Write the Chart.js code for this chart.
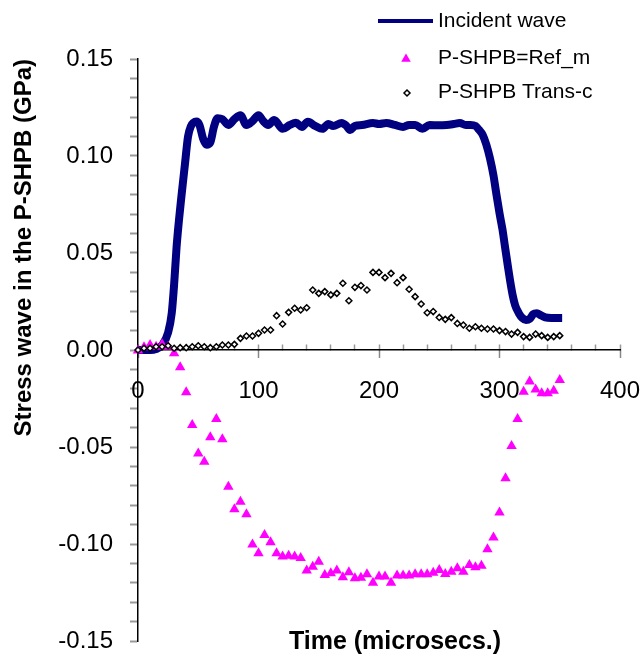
<!DOCTYPE html>
<html><head><meta charset="utf-8">
<script src="https://cdn.jsdelivr.net/npm/chart.js@4/dist/chart.umd.min.js"></script>
<style>html,body{margin:0;padding:0;background:#fff}</style>
</head><body>
<canvas id="c" width="643" height="663"></canvas>
<script>
const seriesNames = ['Incident wave', 'P-SHPB=Ref_m', 'P-SHPB Trans-c'];
const xAxisTitle = 'Time (microsecs.)';
const yAxisTitle = 'Stress wave in the P-SHPB (GPa)';
const xTickLabels = ['0', '100', '200', '300', '400'];
const yTickLabels = ['-0.15', '-0.10', '-0.05', '0.00', '0.05', '0.10', '0.15'];

const incidentTime = [0,5,10,15,20,25,28,30,32,34,36,39,41.5,44,46,48.5,51,54,57,60,63,66,70,75,80,85,90,95,100,104,108,113,120,126,131,136,141,147,153,158,162,169,173,176,180,186,195,200,206,213,220,225,230,236,242,250,256,262,267,272,276,280,283,286,289,292,295,297,300,302.5,304.6,307,309,311,313,316,319,322,325,328,331,334,338,343,348,352];
const incidentStress = [0,0,0,0.0005,0.0025,0.009,0.019,0.034,0.053,0.067,0.079,0.096,0.11,0.1155,0.1172,0.1178,0.116,0.109,0.1058,0.107,0.115,0.1195,0.119,0.116,0.119,0.121,0.116,0.118,0.121,0.118,0.116,0.1186,0.114,0.116,0.1172,0.115,0.1177,0.1155,0.114,0.1165,0.1155,0.117,0.1155,0.1134,0.1155,0.116,0.117,0.1165,0.117,0.116,0.115,0.116,0.116,0.114,0.116,0.1158,0.116,0.1165,0.117,0.116,0.116,0.1155,0.1135,0.111,0.106,0.099,0.09,0.082,0.0705,0.062,0.053,0.043,0.035,0.028,0.023,0.019,0.0165,0.0155,0.016,0.0185,0.019,0.018,0.0168,0.0165,0.0165,0.0165];

const sampleTime = [0,5,10,15,20,25,30,35,40,45,50,55,60,65,70,75,80,85,90,95,100,105,110,115,120,125,130,135,140,145,150,155,160,165,170,175,180,185,190,195,200,205,210,215,220,225,230,235,240,245,250,255,260,265,270,275,280,285,290,295,300,305,310,315,320,325,330,335,340,345,350];
const refStress = [-0.0003,0.0014,0.0026,0.0017,0.003,0.0017,-0.0017,-0.0089,-0.0218,-0.0387,-0.0533,-0.0576,-0.045,-0.0356,-0.046,-0.0705,-0.0821,-0.0782,-0.0847,-0.1003,-0.1048,-0.0954,-0.0991,-0.1048,-0.1065,-0.106,-0.1065,-0.1072,-0.1137,-0.1117,-0.1091,-0.116,-0.1151,-0.1137,-0.1172,-0.1146,-0.1177,-0.1174,-0.1156,-0.12,-0.1168,-0.1168,-0.12,-0.1163,-0.1163,-0.1163,-0.1156,-0.1156,-0.1156,-0.1148,-0.1134,-0.1155,-0.1143,-0.1125,-0.1143,-0.1108,-0.112,-0.1112,-0.1027,-0.0966,-0.0837,-0.0661,-0.0495,-0.0356,-0.0215,-0.0163,-0.0203,-0.0223,-0.0223,-0.021,-0.0155];
const transStress = [0,0.0009,0.0009,0.0017,0.0017,0.0022,0.0009,0.0012,0.0012,0.0017,0.0022,0.0017,0.0012,0.0017,0.0026,0.0026,0.0029,0.006,0.0072,0.0072,0.0086,0.0103,0.0103,0.0177,0.0134,0.0194,0.0215,0.0206,0.0218,0.0309,0.0292,0.0301,0.0284,0.0292,0.0344,0.0254,0.0323,0.0332,0.0309,0.040,0.040,0.0373,0.0395,0.0347,0.0373,0.0313,0.0275,0.0237,0.0192,0.0198,0.0168,0.0158,0.0167,0.0137,0.0129,0.0112,0.012,0.0112,0.0108,0.0108,0.0100,0.0095,0.0082,0.0091,0.0069,0.0065,0.0082,0.0074,0.0065,0.0069,0.0074];

const FONT = '"Liberation Sans", Arial, Helvetica, sans-serif';
const toPts = (xs, ys) => xs.map((x, i) => ({x: x, y: ys[i]}));
const matchLabel = (labels, v) => {
  const l = labels.find(s => Math.abs(parseFloat(s) - v) < 1e-6);
  return l === undefined ? '' : l;
};

const legendPlugin = {
  id: 'boxLegend',
  afterLayout(chart) {
    // shift the x-axis title box to the right (title only, ticks keep their mapping)
    const s = chart.scales.x2;
    if (s) { s.right += 32; }
  },
  afterDraw(chart) {
    const ctx = chart.ctx;
    const ds = chart.data.datasets;
    ctx.save();
    ctx.font = '21px ' + FONT;
    ctx.fillStyle = '#000';
    ctx.textAlign = 'left';
    ctx.textBaseline = 'middle';
    ctx.strokeStyle = ds[0].borderColor;
    ctx.lineWidth = 4;
    ctx.beginPath(); ctx.moveTo(378, 21); ctx.lineTo(433, 21); ctx.stroke();
    ctx.fillText(ds[0].label, 438, 21);
    ctx.fillStyle = ds[1].backgroundColor;
    ctx.beginPath();
    const r = 5.5;
    ctx.moveTo(406, 59 - r);
    ctx.lineTo(406 + r * 0.866, 59 + r / 2);
    ctx.lineTo(406 - r * 0.866, 59 + r / 2);
    ctx.closePath(); ctx.fill();
    ctx.fillStyle = '#000';
    ctx.fillText(ds[1].label, 438, 58);
    ctx.beginPath();
    const d = 3;
    ctx.moveTo(407, 93 - d); ctx.lineTo(407 + d, 93); ctx.lineTo(407, 93 + d); ctx.lineTo(407 - d, 93); ctx.closePath();
    ctx.fillStyle = '#fff'; ctx.fill();
    ctx.strokeStyle = '#000'; ctx.lineWidth = 1.5; ctx.stroke();
    ctx.fillStyle = '#000';
    ctx.fillText(ds[2].label, 438, 92.5);
    ctx.restore();
  }
};

new Chart(document.getElementById('c'), {
  type: 'scatter',
  data: {
    datasets: [
      {
        label: seriesNames[0], type: 'line', data: toPts(incidentTime, incidentStress),
        borderColor: '#000080', borderWidth: 8, pointRadius: 0, fill: false,
        cubicInterpolationMode: 'monotone', order: 2, clip: false
      },
      {
        label: seriesNames[1], data: toPts(sampleTime, refStress),
        pointStyle: 'triangle', pointRadius: 6, backgroundColor: '#FF00FF', borderColor: '#FF00FF',
        borderWidth: 0, showLine: false, order: 1, clip: false
      },
      {
        label: seriesNames[2], data: toPts(sampleTime, transStress),
        pointStyle: 'rectRot', pointRadius: 3, backgroundColor: '#FFFFFF', borderColor: '#000000',
        borderWidth: 1.5, showLine: false, order: 0, clip: false
      }
    ]
  },
  options: {
    responsive: false,
    animation: false,
    devicePixelRatio: 1,
    layout: { padding: { top: 59, right: 23, bottom: 22, left: 0 } },
    plugins: { legend: { display: false }, tooltip: { enabled: false }, title: { display: false } },
    elements: { point: { hoverRadius: 0 } },
    scales: {
      x: {
        type: 'linear', position: { y: 0 }, min: 0, max: 400,
        border: { display: true, color: '#000', width: 1.5 },
        grid: { drawOnChartArea: false, drawTicks: true, tickLength: -6, tickColor: '#999', tickWidth: 1.5 },
        ticks: {
          stepSize: 20, autoSkip: false, maxRotation: 0, padding: 33, color: '#000',
          font: { family: FONT, size: 24 },
          callback: v => matchLabel(xTickLabels, v)
        },
        afterFit: s => { s.paddingLeft = 0; s.paddingRight = 0; }
      },
      x2: {
        type: 'linear', axis: 'x', position: { y: 0 }, min: 0, max: 400,
        border: { display: false },
        grid: { drawOnChartArea: false, drawTicks: true, tickLength: 8, tickColor: '#888', tickWidth: 1.5 },
        ticks: { stepSize: 100, display: false },
        title: { display: true, text: xAxisTitle, color: '#000', font: { family: FONT, size: 25, weight: 'bold' }, padding: 0 },
        afterFit: s => { s.height = 307; s.paddingLeft = 0; s.paddingRight = 0; }
      },
      y: {
        type: 'linear', position: 'left', min: -0.15, max: 0.15,
        border: { display: true, color: '#000', width: 1.5 },
        grid: { drawOnChartArea: false, drawTicks: true, tickLength: 8, tickColor: '#999', tickWidth: 2 },
        ticks: {
          stepSize: 0.01, autoSkip: false, padding: 17, color: '#000',
          font: { family: FONT, size: 24 },
          callback: v => matchLabel(yTickLabels, v)
        },
        title: { display: true, text: yAxisTitle, align: 'end', color: '#000', font: { family: FONT, size: 24, weight: 'bold' }, padding: { top: 10, bottom: 0 } },
        afterFit: s => { s.width = 138; s.paddingTop = 0; s.paddingBottom = 0; }
      }
    }
  },
  plugins: [legendPlugin]
});
</script>
</body></html>
